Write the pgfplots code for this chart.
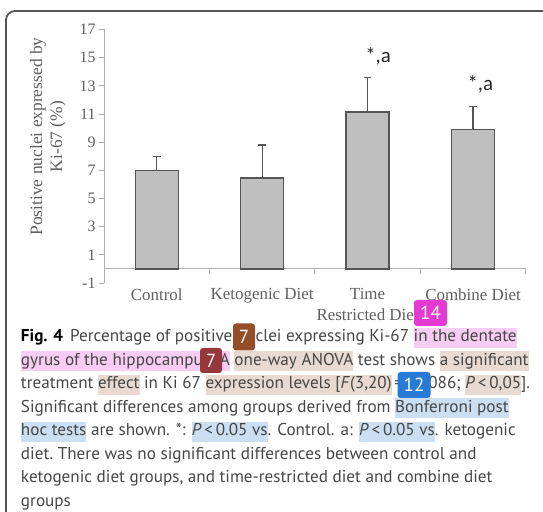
\documentclass[border=0pt]{standalone}
\usepackage{fontspec}
\setmainfont{Liberation Serif}
\newfontfamily\capfont{PT Sans}
\newfontfamily\annfont{Carlito}
\usepackage{pgfplots}
\pgfplotsset{compat=1.18}
\definecolor{framegray}{RGB}{85,85,85}
\definecolor{txtgray}{RGB}{95,95,95}
\definecolor{axgray}{RGB}{175,175,175}
\definecolor{barfill}{RGB}{191,191,191}
\definecolor{bardraw}{RGB}{85,85,85}
\definecolor{captext}{RGB}{70,70,70}
\definecolor{hlpink}{RGB}{248,205,243}
\definecolor{hltan}{RGB}{232,218,208}
\definecolor{hlblue}{RGB}{203,222,242}
\definecolor{bdmag}{RGB}{228,58,210}
\definecolor{bdbrown}{RGB}{150,78,40}
\definecolor{bdred}{RGB}{150,55,60}
\definecolor{bdblue}{RGB}{40,122,215}
\newcommand\hl[2]{{\setlength\fboxsep{0pt}\colorbox{#1}{\rule[-6bp]{0pt}{20bp}#2}}}
\begin{document}
\begin{tikzpicture}[x=1bp,y=1bp]
\draw[framegray, line width=1.8bp, rounded corners=9bp] (6,-2) -- (6,501) -- (545,501);
\begin{axis}[
  at={(104bp,229bp)}, anchor=south west,
  scale only axis, width=421.7bp, height=253.5bp,
  xmin=-0.5, xmax=3.5, ymin=-1, ymax=17,
  ybar, bar width=43bp,
  axis y line*=left, axis x line*=bottom,
  x axis line style={draw=none},
  y axis line style={draw=axgray, line width=0.9bp},
  ytick style={draw=axgray, line width=0.9bp},
  xtick style={draw=none},
  tick align=outside, major tick length=5bp,
  ytick={-1,1,...,17},
  yticklabel style={font=\fontsize{16}{18}\selectfont, text=txtgray},
  /pgf/number format/assume math mode=true,
  extra y ticks={0}, extra y tick labels={},
  extra y tick style={grid=major, major grid style={draw=axgray, line width=0.9bp}, major tick length=0pt},
  xtick={0,1,2,3},
  xticklabels={Control, Ketogenic Diet, {Time\\Restricted Diet}, Combine Diet},
  xticklabel style={align=center, font=\fontsize{17}{21}\selectfont, text=txtgray, yshift=3bp},
  clip=false,
]
\addplot[fill=barfill, draw=bardraw, line width=1.4bp,
  error bars/.cd, y dir=plus, y explicit,
  error bar style={draw=bardraw, line width=1.1bp},
  error mark options={rotate=90, mark size=3.8bp, line width=1.1bp, draw=bardraw}]
  coordinates {(0,7.0) +- (0,1.0) (1,6.45) +- (0,2.35) (2,11.15) +- (0,2.45) (3,9.9) +- (0,1.65)};
\draw[axgray, line width=0.9bp] (axis cs:0.5,0) -- ([yshift=-5bp]axis cs:0.5,0);
\draw[axgray, line width=0.9bp] (axis cs:1.5,0) -- ([yshift=-5bp]axis cs:1.5,0);
\draw[axgray, line width=0.9bp] (axis cs:2.5,0) -- ([yshift=-5bp]axis cs:2.5,0);
\draw[axgray, line width=0.9bp] (axis cs:3.5,0) -- ([yshift=-5bp]axis cs:3.5,0);
\node[font=\annfont\fontsize{21}{24}\selectfont, text=black!85] at (axis cs:2.1,15.1) {*,a};
\node[font=\annfont\fontsize{21}{24}\selectfont, text=black!85] at (axis cs:3.07,13.1) {*,a};
\end{axis}
\node[rotate=90, align=center, font=\fontsize{17.5}{20}\selectfont, text=txtgray] at (48,375.5) {Positive nuclei expressed by\\Ki-67 (\%)};
\begin{scope}[every node/.style={anchor=base west, inner sep=0pt, font=\capfont\fontsize{17.2}{23.5}\selectfont, text=captext}]
\node at (20.8,170) {{\color{black}\textbf{Fig. 4}}\hspace{7bp}Percentage of positive nuclei expressing Ki-67 \hl{hlpink}{in the dentate}};
\node at (20.8,146.5) {\hl{hlpink}{gyrus of the hippocampus. A} \hl{hltan}{one-way ANOVA} test shows \hl{hltan}{a significant}};
\node at (20.8,123) {treatment \hl{hltan}{effect} in Ki 67 \hl{hltan}{expression levels [\textit{F}(3,20)}\,=\,\hl{hlblue}{12.}086; \hl{hltan}{\textit{P}\,<\,0,05}].};
\node at (20.8,99.5) {Significant differences among groups derived from \hl{hlblue}{Bonferroni post}};
\node at (20.8,76) {\hl{hlblue}{hoc tests} are shown. *: \hl{hlblue}{\textit{P}\,<\,0.05 vs}. Control. a: \hl{hlblue}{\textit{P}\,<\,0.05 vs}. ketogenic};
\node at (20.8,52.5) {diet.\hspace{-1.5bp} There was no significant differences between control and};
\node at (20.8,29) {ketogenic diet groups, and time-restricted diet and combine diet};
\node at (20.8,5.5) {groups};
\end{scope}
\begin{scope}[every node/.style={inner sep=0pt, rounded corners=3bp, text=white, font=\capfont\fontsize{19}{22}\selectfont}]
\node[fill=bdmag, minimum width=33bp, minimum height=26bp] at (430.5,199) {14};
\node[fill=bdbrown, minimum width=22bp, minimum height=27bp] at (244,175) {7};
\node[fill=bdred, minimum width=22bp, minimum height=25bp] at (211,151.5) {7};
\node[fill=bdblue, minimum width=33bp, minimum height=26bp] at (414,127) {12};
\end{scope}
\pgfresetboundingbox
\path[use as bounding box] (0,0) rectangle (543,512);
\end{tikzpicture}
\end{document}
